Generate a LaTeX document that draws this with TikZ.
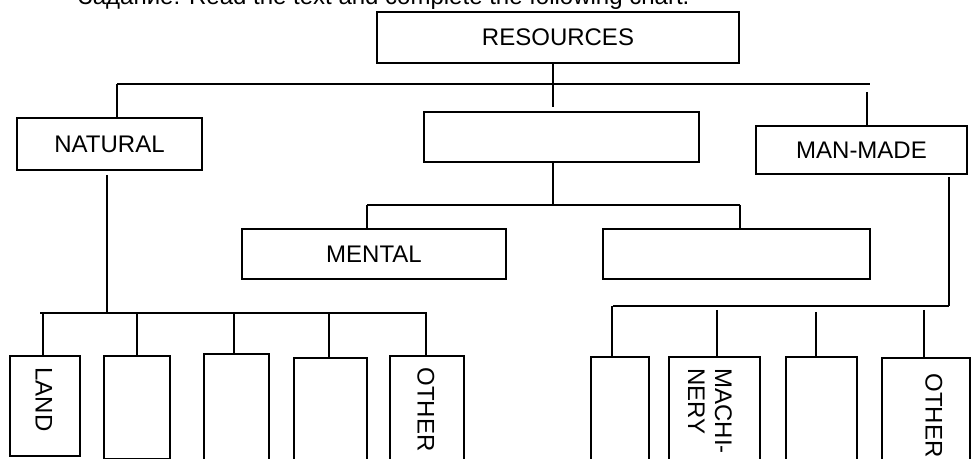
\documentclass[tikz,border=0pt]{standalone}
\usepackage{fontspec}
\setmainfont{Liberation Sans}
\usepackage{tikz}
\usetikzlibrary{positioning}

\begin{document}
\begin{tikzpicture}[
    x=0.5pt, y=-0.5pt,
    every node/.style={font=\fontsize{12}{13.5}\selectfont},
    box/.style={rectangle, draw, line width=1.1pt, inner sep=0pt, align=center},
    vbox/.style={box, anchor=north},
    vtext/.style={rotate=-90, anchor=west, inner sep=0pt, align=left},
    wire/.style={line width=0.9pt}
  ]
    \useasboundingbox (0,0) rectangle (980,459);
    \clip (0,0) rectangle (980,459);

    \node[anchor=base west, inner sep=0pt] (task) at (78,5) {Задание: Read the text and complete the following chart.};

    % upper level
    \node[box, minimum width=181pt, minimum height=25.5pt] (res)   at (558,37.5)  {RESOURCES};
    \node[box, minimum width=92.5pt, minimum height=26pt]  (nat)   at (109.5,144) {NATURAL};
    \node[box, minimum width=137.5pt, minimum height=25pt] (mid)   at (561.5,137) {};
    \node[box, minimum width=105.5pt, minimum height=24pt] (man)   at (861.5,150) {MAN-MADE};
    \node[box, minimum width=132pt, minimum height=25pt]   (ment)  at (374,254)   {MENTAL};
    \node[box, minimum width=133.5pt, minimum height=25pt] (blank) at (736.5,254) {};

    % lower level, natural side
    \node[vbox, minimum width=35pt, minimum height=50pt]   (land)   at (45,355)    {};
    \node[vbox, minimum width=33pt, minimum height=51.5pt] (nb)     at (137,355)   {};
    \node[vbox, minimum width=32.5pt, minimum height=60pt] (nc)     at (236.5,353) {};
    \node[vbox, minimum width=36.5pt, minimum height=60pt] (nd)     at (330.5,357) {};
    \node[vbox, minimum width=37pt, minimum height=60pt]   (nother) at (427,355)   {};

    % lower level, man-made side
    \node[vbox, minimum width=29pt, minimum height=60pt]   (ma)     at (620,356)   {};
    \node[vbox, minimum width=45.5pt, minimum height=60pt] (mach)   at (714.5,356) {};
    \node[vbox, minimum width=35.5pt, minimum height=60pt] (mc)     at (821.5,356) {};
    \node[vbox, minimum width=44pt, minimum height=60pt]   (mother) at (926,357)   {};

    \node[vtext] (landtxt)   at (44,367)  {LAND};
    \node[vtext] (nothertxt) at (426,367) {OTHER};
    \node[vtext] (machtxt)   at (710,368) {MACHI-\\NERY};
    \node[vtext] (mothertxt) at (934,373) {OTHER};

    % top bus
    \coordinate (busL) at (117,84);
    \coordinate (busR) at (870,84);
    \coordinate (resdn) at (553,107);
    \coordinate (mandn) at (867,92);
    \draw[wire] (busL) -- (busR);
    \draw[wire] (res.south -| resdn) -- (resdn);
    \draw[wire] (busL) -- (busL |- nat.north);
    \draw[wire] (mandn) -- (mandn |- man.north);

    % middle bus
    \coordinate (midbus) at (553,205);
    \coordinate (mbL) at (367,205);
    \coordinate (mbR) at (740,205);
    \draw[wire] (mid.south -| midbus) -- (midbus);
    \draw[wire] (mbL) -- (mbR);
    \draw[wire] (mbL) -- (mbL |- ment.north);
    \draw[wire] (mbR) -- (mbR |- blank.north);

    % natural bus
    \coordinate (natdn) at (107,175);
    \coordinate (nbL) at (40,313);
    \coordinate (nbR) at (427,313);
    \draw[wire] (natdn) -- (natdn |- nbL);
    \draw[wire] (nbL) -- (nbR);
    \foreach \xx/\to in {43/land, 137/nb, 234/nc, 329/nd, 426/nother}
      \draw[wire] (\xx,313) -- (\xx,313 |- \to.north);

    % man-made bus
    \coordinate (mandown) at (949,177);
    \coordinate (mbus) at (949,306);
    \coordinate (mbusL) at (613,306);
    \draw[wire] (mandown) -- (mbus);
    \draw[wire] (mbusL) -- (mbus);
    \foreach \xx/\yy/\to in {612/306/ma, 717/310/mach, 816/312/mc, 924/310/mother}
      \draw[wire] (\xx,\yy) -- (\xx,\yy |- \to.north);
\end{tikzpicture}
\end{document}
